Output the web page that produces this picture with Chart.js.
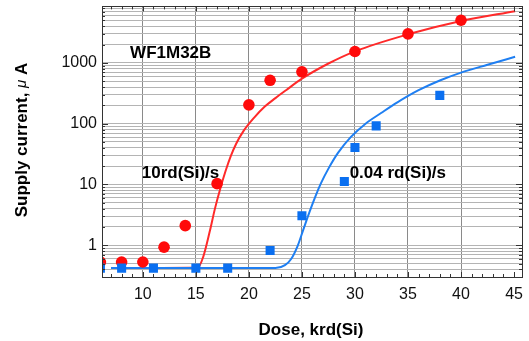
<!DOCTYPE html>
<html>
<head>
<meta charset="utf-8">
<script src="https://cdn.jsdelivr.net/npm/chart.js@4/dist/chart.umd.min.js"></script>
<style>
  html, body { margin: 0; padding: 0; background: #fff; }
  #wrap { width: 529px; height: 341px; }
</style>
</head>
<body>
<div id="wrap"><canvas id="doseChart" width="529" height="341"></canvas></div>
<script>
// measured points, 10 rd(Si)/s
const doseRed = [6, 8, 10, 12, 14, 17, 20, 22, 25, 30, 35, 40];
const currentRed = [0.53, 0.53, 0.53, 0.93, 2.1, 10.3, 204, 517, 713, 1540, 3000, 5030];

// measured points, 0.04 rd(Si)/s
const doseBlue = [6, 8, 11, 15, 18, 22, 25, 29, 30, 32, 38];
const currentBlue = [0.42, 0.42, 0.42, 0.42, 0.42, 0.82, 3.05, 11.2, 40.5, 92, 292];

// fitted curves
const fitDoseRed = [7, 15.2, 15.7, 16.3, 16.8, 17.3, 17.8, 18.3, 18.8, 19.5, 20.5, 21.5, 22.5, 23.5, 25, 27.5, 30, 35, 40, 45.1];
const fitCurrentRed = [0.42, 0.43, 0.65, 1.66, 4.0, 8.5, 16.6, 29.5, 46.8, 76, 126, 191, 263, 355, 550, 977, 1550, 2950, 4900, 7080];

const fitDoseBlue = [7, 22.5, 23.4, 24, 24.6, 25.1, 25.6, 26.2, 26.8, 27.5, 28.4, 29.6, 31, 32.5, 34, 36, 38, 40, 42.5, 45.1];
const fitCurrentBlue = [0.42, 0.42, 0.47, 0.6, 0.98, 1.74, 3.1, 5.9, 10.5, 18.2, 33, 60, 100, 151, 224, 355, 513, 692, 933, 1260];

// axes
const xTickValues = [10, 15, 20, 25, 30, 35, 40, 45];
const yTickLabels = [1, 10, 100, 1000];

// text labels placed in data units
const notes = [
  { text: 'WF1M32B', x: 8.8, y: 1430 },
  { text: '10rd(Si)/s', x: 9.9, y: 15.3 },
  { text: '0.04 rd(Si)/s', x: 29.5, y: 15.3 }
];

const RED = '#ff0a0a';
const BLUE = '#0a6ff0';
const FONT = '"Liberation Sans", Arial, sans-serif';

function toXY(xs, ys) {
  return xs.map((x, i) => ({ x: x, y: ys[i] }));
}

// y grid lines at 1..9 of every decade
const yGridValues = [];
[0.1, 1, 10, 100, 1000].forEach(d => {
  for (let m = 1; m <= 9; m++) yGridValues.push(+(m * d).toPrecision(3));
});

const frame = {
  id: 'frame',
  afterDatasetsDraw(chart) {
    const ctx = chart.ctx;
    const xs = chart.scales.x, ys = chart.scales.y;
    ctx.save();
    ctx.fillStyle = '#000';
    ctx.font = 'bold 17px ' + FONT;
    ctx.textBaseline = 'middle';
    ctx.textAlign = 'left';
    notes.forEach(n => {
      ctx.fillText(n.text, xs.getPixelForValue(n.x), ys.getPixelForValue(n.y));
    });
    ctx.restore();
  },
  afterDraw(chart) {
    const ctx = chart.ctx;
    const xs = chart.scales.x, ys = chart.scales.y;
    const a = chart.chartArea;
    ctx.save();
    ctx.strokeStyle = '#333';
    ctx.lineWidth = 1;
    // inner ticks on x
    ctx.beginPath();
    for (let v = 7; v <= 45; v++) {
      const px = Math.round(xs.getPixelForValue(v)) + 0.5;
      const len = v % 5 === 0 ? 5 : 3;
      ctx.moveTo(px, a.bottom); ctx.lineTo(px, a.bottom - len);
      ctx.moveTo(px, a.top); ctx.lineTo(px, a.top + len);
    }
    // inner ticks on y
    yGridValues.forEach(v => {
      if (v < ys.min || v > ys.max) return;
      const py = Math.round(ys.getPixelForValue(v)) + 0.5;
      const len = yTickLabels.includes(v) ? 6 : 3;
      ctx.moveTo(a.left, py); ctx.lineTo(a.left + len, py);
      ctx.moveTo(a.right, py); ctx.lineTo(a.right - len, py);
    });
    ctx.stroke();
    ctx.strokeRect(Math.round(a.left) + 0.5, Math.round(a.top) + 0.5,
      Math.round(a.right - a.left), Math.round(a.bottom - a.top));

    // axis titles
    ctx.fillStyle = '#000';
    ctx.textBaseline = 'middle';
    ctx.textAlign = 'center';
    ctx.font = 'bold 17px ' + FONT;
    ctx.fillText('Dose, krd(Si)', 311, 330);

    ctx.translate(22, 140);
    ctx.rotate(-Math.PI / 2);
    const parts = [
      { t: 'Supply current, ', f: 'bold 17px ' + FONT },
      { t: '\u03bc', f: 'italic 15px ' + FONT },
      { t: ' A', f: 'bold 17px ' + FONT }
    ];
    let total = 0;
    parts.forEach(p => { ctx.font = p.f; p.w = ctx.measureText(p.t).width; total += p.w; });
    let cx = -total / 2;
    ctx.textAlign = 'left';
    parts.forEach(p => { ctx.font = p.f; ctx.fillText(p.t, cx, 0); cx += p.w; });
    ctx.restore();
  }
};

new Chart(document.getElementById('doseChart'), {
  type: 'scatter',
  data: {
    datasets: [
      {
        label: '0.04 rd(Si)/s',
        data: toXY(doseBlue, currentBlue),
        pointStyle: 'rect',
        pointRadius: 6.4,
        pointBackgroundColor: BLUE,
        pointBorderWidth: 0,
        showLine: false,
        clip: 0,
        order: 0
      },
      {
        label: '10rd(Si)/s',
        data: toXY(doseRed, currentRed),
        pointStyle: 'circle',
        pointRadius: 5.8,
        pointBackgroundColor: RED,
        pointBorderWidth: 0,
        showLine: false,
        clip: 0,
        order: 1
      },
      {
        label: 'fit 0.04',
        data: toXY(fitDoseBlue, fitCurrentBlue),
        showLine: true,
        borderColor: '#1f7ff2',
        borderWidth: 2,
        pointRadius: 0,
        cubicInterpolationMode: 'monotone',
        clip: 0,
        order: 2
      },
      {
        label: 'fit 10',
        data: toXY(fitDoseRed, fitCurrentRed),
        showLine: true,
        borderColor: '#ff2a2a',
        borderWidth: 2,
        pointRadius: 0,
        cubicInterpolationMode: 'monotone',
        clip: 0,
        order: 3
      }
    ]
  },
  options: {
    responsive: false,
    animation: false,
    layout: { padding: { left: 0, right: 7, top: 5, bottom: 0 } },
    plugins: {
      legend: { display: false },
      tooltip: { enabled: false }
    },
    scales: {
      x: {
        type: 'linear',
        min: 6.15,
        max: 45.75,
        afterBuildTicks: s => { s.ticks = xTickValues.map(v => ({ value: v })); },
        afterFit: s => { s.height = 64; s.paddingLeft = 0; s.paddingRight = 0; },
        border: { display: false },
        grid: {
          drawTicks: false,
          color: c => (c.tick && c.tick.value < 45 ? '#8a8a8a' : 'rgba(0,0,0,0)'),
          lineWidth: 1
        },
        ticks: {
          padding: 8,
          color: '#111',
          font: { family: FONT, size: 16 },
          maxRotation: 0,
          autoSkip: false,
          callback: v => String(v)
        }
      },
      y: {
        type: 'logarithmic',
        min: 0.34,
        max: 8500,
        afterBuildTicks: s => {
          s.ticks = yGridValues.filter(v => v >= 0.34 && v <= 8500).map(v => ({ value: v }));
        },
        afterFit: s => { s.width = 102; s.paddingTop = 0; s.paddingBottom = 0; },
        border: { display: false },
        grid: {
          drawTicks: false,
          color: '#b4b4b4',
          lineWidth: 1
        },
        ticks: {
          padding: 5,
          color: '#111',
          font: { family: FONT, size: 16 },
          autoSkip: false,
          callback: v => (yTickLabels.includes(v) ? String(v) : '')
        }
      }
    }
  },
  plugins: [frame]
});
</script>
</body>
</html>
